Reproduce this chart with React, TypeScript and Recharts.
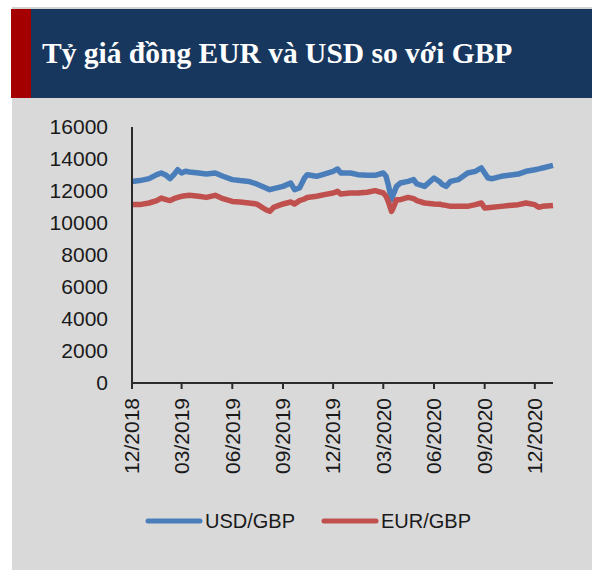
import { LineChart, Line, XAxis, YAxis, Legend } from "recharts"

// Dữ liệu (ngày, USD/GBP, EUR/GBP)
const dates = [
  "2018-12-01", "2018-12-15", "2019-01-01", "2019-01-15", "2019-01-23", "2019-02-01",
  "2019-02-08", "2019-02-15", "2019-02-22", "2019-03-01", "2019-03-08", "2019-03-15",
  "2019-04-01", "2019-04-15", "2019-05-01", "2019-05-15", "2019-06-01", "2019-06-15",
  "2019-07-01", "2019-07-15", "2019-08-01", "2019-08-08", "2019-08-15", "2019-09-01",
  "2019-09-15", "2019-09-22", "2019-10-01", "2019-10-10", "2019-10-15", "2019-11-01",
  "2019-11-15", "2019-12-01", "2019-12-09", "2019-12-15", "2020-01-01", "2020-01-15",
  "2020-02-01", "2020-02-15", "2020-03-01", "2020-03-06", "2020-03-10", "2020-03-16",
  "2020-03-19", "2020-03-25", "2020-04-01", "2020-04-15", "2020-04-25", "2020-05-01",
  "2020-05-15", "2020-06-01", "2020-06-12", "2020-06-15", "2020-06-23", "2020-07-01",
  "2020-07-15", "2020-08-01", "2020-08-15", "2020-08-26", "2020-09-01", "2020-09-07",
  "2020-09-15", "2020-10-01", "2020-10-15", "2020-11-01", "2020-11-15", "2020-12-01",
  "2020-12-08", "2020-12-15", "2021-01-03",
]

const usdGbp = [
  12600, 12650, 12770, 13020, 13125, 12980,
  12770, 13020, 13330, 13125, 13230, 13190,
  13125, 13060, 13125, 12920, 12710, 12650,
  12600, 12440, 12190, 12080, 12150, 12290,
  12500, 12080, 12190, 12810, 13020, 12920,
  13060, 13230, 13375, 13125, 13125, 13020,
  12980, 12980, 13125, 12920, 12400, 11460,
  11770, 12290, 12500, 12600, 12710, 12440,
  12290, 12810, 12560, 12440, 12290, 12600,
  12710, 13125, 13230, 13440, 13125, 12810,
  12770, 12920, 12980, 13060, 13230, 13330,
  13380, 13440, 13600,
]

const eurGbp = [
  11150, 11150, 11250, 11400, 11560, 11460,
  11400, 11520, 11600, 11670, 11700, 11730,
  11670, 11600, 11730, 11520, 11350, 11310,
  11250, 11190, 10830, 10730, 10980, 11190,
  11310, 11190, 11400, 11500, 11600, 11670,
  11770, 11875, 11980, 11810, 11875, 11875,
  11920, 12020, 11875, 11670, 11350, 10730,
  10940, 11460, 11460, 11600, 11520, 11400,
  11250, 11190, 11170, 11146, 11100, 11040,
  11040, 11040, 11146, 11250, 10940, 10960,
  10980, 11040, 11100, 11146, 11250, 11146,
  10980, 11040, 11100,
]

const seriesNames = ["USD/GBP", "EUR/GBP"]
const seriesColors = ["#4a7ebb", "#c0504d"]

const yTicks = [0, 2000, 4000, 6000, 8000, 10000, 12000, 14000, 16000]
const xTickDates = [
  "2018-12-01", "2019-03-01", "2019-06-01", "2019-09-01", "2019-12-01",
  "2020-03-01", "2020-06-01", "2020-09-01", "2020-12-01",
]
const xStart = "2018-12-01"
const xEnd = "2021-01-03"

const title = "Tỷ giá đồng EUR và USD so với GBP"

const toTime = (d: string) => Date.parse(d + "T00:00:00Z")
const fmtMonth = (t: number) => {
  const d = new Date(t)
  return `${String(d.getUTCMonth() + 1).padStart(2, "0")}/${d.getUTCFullYear()}`
}

const data = dates.map((d, i) => ({ t: toTime(d), usd: usdGbp[i], eur: eurGbp[i] }))

const FONT = "'Liberation Sans', Arial, sans-serif"
const TEXT = "#1a1a1a"
const AXIS = "#2b2b2b"

function RotatedTick(props: any) {
  const { x, y, payload } = props
  return (
    <g transform={`translate(${x},${y})`}>
      <text
        transform="rotate(-90)"
        dy="0.35em"
        textAnchor="end"
        fill={TEXT}
        fontSize={21}
        fontFamily={FONT}
      >
        {fmtMonth(payload.value)}
      </text>
    </g>
  )
}

function LegendContent(props: any) {
  // giữ thứ tự như bản gốc: USD/GBP trước
  const items = [...(props.payload || [])].sort(
    (a: any, b: any) => seriesNames.indexOf(a.value) - seriesNames.indexOf(b.value)
  )
  return (
    <div style={{ display: "flex", alignItems: "center", paddingLeft: 145, height: 26 }}>
      {items.map((p: any) => (
        <div key={p.value} style={{ display: "flex", alignItems: "center", marginRight: 26 }}>
          <svg width={58} height={10}>
            <line x1={3} x2={55} y1={5} y2={5} stroke={p.color} strokeWidth={5} strokeLinecap="round" />
          </svg>
          <span style={{ marginLeft: 2, fontSize: 20, fontFamily: FONT, color: TEXT }}>{p.value}</span>
        </div>
      ))}
    </div>
  )
}

export default function App() {
  return (
    <div style={{ position: "absolute", top: 0, left: 0, width: 592, height: 570, background: "#fff" }}>
      <svg width={592} height={98} style={{ position: "absolute", top: 0, left: 0 }}>
        <rect x={12} y={7} width={580} height={2} fill="#d3d3d3" />
        <rect x={11} y={9} width={20} height={89} fill="#a40000" />
        <rect x={31} y={9} width={561} height={89} fill="#17375e" />
        <text x={42} y={63} fill="#fff" fontSize={29.5} fontWeight="bold" fontFamily="'Liberation Serif', 'DejaVu Serif', serif">
          {title}
        </text>
      </svg>
      <div style={{ position: "absolute", top: 98, left: 12, width: 580, height: 472, background: "#d9d9d9" }} />
      <div style={{ position: "absolute", top: 98, left: 0 }}>
        <LineChart width={592} height={472} data={data} margin={{ top: 29, right: 39, left: 0, bottom: 97 }}>
          <XAxis
            dataKey="t"
            type="number"
            scale="time"
            domain={[toTime(xStart), toTime(xEnd)]}
            ticks={xTickDates.map(toTime)}
            tick={<RotatedTick />}
            height={90}
            tickSize={6}
            tickMargin={9}
            stroke={AXIS}
            strokeWidth={2}
            interval={0}
          />
          <YAxis
            domain={[0, 16000]}
            ticks={yTicks}
            width={132}
            tickLine={false}
            tickSize={0}
            tickMargin={24}
            stroke={AXIS}
            strokeWidth={2}
            tick={{ fill: TEXT, fontSize: 21, fontFamily: FONT }}
            interval={0}
          />
          <Legend
            verticalAlign="middle"
            align="center"
            layout="horizontal"
            wrapperStyle={{ top: 410, left: 0, width: 592, height: 26 }}
            content={<LegendContent />}
          />
          <Line
            type="linear"
            dataKey="usd"
            name={seriesNames[0]}
            stroke={seriesColors[0]}
            strokeWidth={5.5}
            strokeLinejoin="round"
            dot={false}
            isAnimationActive={false}
          />
          <Line
            type="linear"
            dataKey="eur"
            name={seriesNames[1]}
            stroke={seriesColors[1]}
            strokeWidth={5.5}
            strokeLinejoin="round"
            dot={false}
            isAnimationActive={false}
          />
        </LineChart>
      </div>
    </div>
  )
}
